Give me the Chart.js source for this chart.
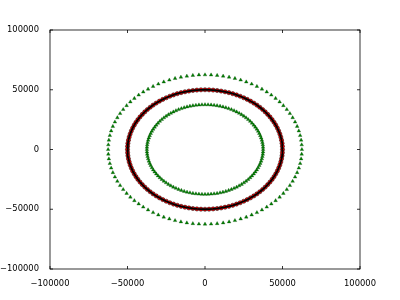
<!DOCTYPE html>
<html>
<head>
<meta charset="utf-8">
<script src="https://cdn.jsdelivr.net/npm/chart.js@4/dist/chart.umd.min.js"></script>
<style>
  html, body { margin: 0; padding: 0; background: #fff; }
  #wrap { width: 400px; height: 300px; }
</style>
</head>
<body>
<div id="wrap"><canvas id="grafico" width="400" height="300"></canvas></div>
<script>
// Anel vermelho (raio ~50000)
const redX = [50000,49931,49726,49384,48907,48296,47553,46679,45677,44550,43301,41933,40451,38857,37157,35355,33457,31466,29389,27232,25000,22699,20337,17918,15451,12941,10396,7822,5226,2617,
  0,-2617,-5226,-7822,-10396,-12941,-15451,-17918,-20337,-22699,-25000,-27232,-29389,-31466,-33457,-35355,-37157,-38857,-40451,-41933,-43301,-44550,-45677,-46679,-47553,-48296,-48907,-49384,-49726,-49931,
  -50000,-49931,-49726,-49384,-48907,-48296,-47553,-46679,-45677,-44550,-43301,-41933,-40451,-38857,-37157,-35355,-33457,-31466,-29389,-27232,-25000,-22699,-20337,-17918,-15451,-12941,-10396,-7822,-5226,-2617,
  0,2617,5226,7822,10396,12941,15451,17918,20337,22699,25000,27232,29389,31466,33457,35355,37157,38857,40451,41933,43301,44550,45677,46679,47553,48296,48907,49384,49726,49931];
const redY = [0,2617,5226,7822,10396,12941,15451,17918,20337,22699,25000,27232,29389,31466,33457,35355,37157,38857,40451,41933,43301,44550,45677,46679,47553,48296,48907,49384,49726,49931,
  50000,49931,49726,49384,48907,48296,47553,46679,45677,44550,43301,41933,40451,38857,37157,35355,33457,31466,29389,27232,25000,22699,20337,17918,15451,12941,10396,7822,5226,2617,
  0,-2617,-5226,-7822,-10396,-12941,-15451,-17918,-20337,-22699,-25000,-27232,-29389,-31466,-33457,-35355,-37157,-38857,-40451,-41933,-43301,-44550,-45677,-46679,-47553,-48296,-48907,-49384,-49726,-49931,
  -50000,-49931,-49726,-49384,-48907,-48296,-47553,-46679,-45677,-44550,-43301,-41933,-40451,-38857,-37157,-35355,-33457,-31466,-29389,-27232,-25000,-22699,-20337,-17918,-15451,-12941,-10396,-7822,-5226,-2617];

// Anel verde interno (raio ~37500)
const innerX = [37500,37448,37295,37038,36681,36222,35665,35009,34258,33413,32476,31450,30338,29143,27868,26517,25092,23600,22042,20424,18750,17025,15253,13439,11588,9706,7797,5866,3920,1963,
  0,-1963,-3920,-5866,-7797,-9706,-11588,-13439,-15253,-17025,-18750,-20424,-22042,-23600,-25092,-26517,-27868,-29143,-30338,-31450,-32476,-33413,-34258,-35009,-35665,-36222,-36681,-37038,-37295,-37448,
  -37500,-37448,-37295,-37038,-36681,-36222,-35665,-35009,-34258,-33413,-32476,-31450,-30338,-29143,-27868,-26517,-25092,-23600,-22042,-20424,-18750,-17025,-15253,-13439,-11588,-9706,-7797,-5866,-3920,-1963,
  0,1963,3920,5866,7797,9706,11588,13439,15253,17025,18750,20424,22042,23600,25092,26517,27868,29143,30338,31450,32476,33413,34258,35009,35665,36222,36681,37038,37295,37448];
const innerY = [0,1963,3920,5866,7797,9706,11588,13439,15253,17025,18750,20424,22042,23600,25092,26517,27868,29143,30338,31450,32476,33413,34258,35009,35665,36222,36681,37038,37295,37448,
  37500,37448,37295,37038,36681,36222,35665,35009,34258,33413,32476,31450,30338,29143,27868,26517,25092,23600,22042,20424,18750,17025,15253,13439,11588,9706,7797,5866,3920,1963,
  0,-1963,-3920,-5866,-7797,-9706,-11588,-13439,-15253,-17025,-18750,-20424,-22042,-23600,-25092,-26517,-27868,-29143,-30338,-31450,-32476,-33413,-34258,-35009,-35665,-36222,-36681,-37038,-37295,-37448,
  -37500,-37448,-37295,-37038,-36681,-36222,-35665,-35009,-34258,-33413,-32476,-31450,-30338,-29143,-27868,-26517,-25092,-23600,-22042,-20424,-18750,-17025,-15253,-13439,-11588,-9706,-7797,-5866,-3920,-1963];

// Anel verde externo (raio ~62500)
const outerX = [62500,62377,62007,61393,60536,59441,58111,56552,54769,52771,50564,48157,45561,42784,39839,36737,33489,30110,26611,23008,19314,15543,11711,7833,3924,
  0,-3924,-7833,-11711,-15543,-19314,-23008,-26611,-30110,-33489,-36737,-39839,-42784,-45561,-48157,-50564,-52771,-54769,-56552,-58111,-59441,-60536,-61393,-62007,-62377,
  -62500,-62377,-62007,-61393,-60536,-59441,-58111,-56552,-54769,-52771,-50564,-48157,-45561,-42784,-39839,-36737,-33489,-30110,-26611,-23008,-19314,-15543,-11711,-7833,-3924,
  0,3924,7833,11711,15543,19314,23008,26611,30110,33489,36737,39839,42784,45561,48157,50564,52771,54769,56552,58111,59441,60536,61393,62007,62377];
const outerY = [0,3924,7833,11711,15543,19314,23008,26611,30110,33489,36737,39839,42784,45561,48157,50564,52771,54769,56552,58111,59441,60536,61393,62007,62377,
  62500,62377,62007,61393,60536,59441,58111,56552,54769,52771,50564,48157,45561,42784,39839,36737,33489,30110,26611,23008,19314,15543,11711,7833,3924,
  0,-3924,-7833,-11711,-15543,-19314,-23008,-26611,-30110,-33489,-36737,-39839,-42784,-45561,-48157,-50564,-52771,-54769,-56552,-58111,-59441,-60536,-61393,-62007,-62377,
  -62500,-62377,-62007,-61393,-60536,-59441,-58111,-56552,-54769,-52771,-50564,-48157,-45561,-42784,-39839,-36737,-33489,-30110,-26611,-23008,-19314,-15543,-11711,-7833,-3924];

// Ticks dos eixos
const tickValues = [-100000, -50000, 0, 50000, 100000];

const pts = (xs, ys) => xs.map((x, i) => ({ x: x, y: ys[i] }));
const redPts = pts(redX, redY);

// moldura + ticks para dentro, estilo matplotlib
const framePlugin = {
    id: 'frame',
    afterDatasetsDraw(chart) {
        const c = chart.ctx, a = chart.chartArea;
        const sx = chart.scales.x, sy = chart.scales.y;
        c.save();
        c.strokeStyle = '#000';
        c.lineWidth = 0.8;
        c.strokeRect(a.left, a.top, a.right - a.left, a.bottom - a.top);
        c.beginPath();
        tickValues.forEach(v => {
            const px = sx.getPixelForValue(v);
            c.moveTo(px, a.bottom); c.lineTo(px, a.bottom - 3);
            c.moveTo(px, a.top); c.lineTo(px, a.top + 3);
            const py = sy.getPixelForValue(v);
            c.moveTo(a.left, py); c.lineTo(a.left + 3, py);
            c.moveTo(a.right, py); c.lineTo(a.right - 3, py);
        });
        c.stroke();
        c.restore();
    }
};

const fmt = v => String(v).replace('-', '\u2212');
const tickFont = { family: 'DejaVu Sans', size: 8.4 };

new Chart(document.getElementById('grafico'), {
    type: 'scatter',
    data: {
        datasets: [
            {
                data: redPts.concat([redPts[0]]),
                showLine: true,
                borderColor: '#000',
                borderWidth: 1.8,
                pointRadius: 0
            },
            {
                data: redPts,
                pointStyle: 'circle',
                pointRadius: 2.1,
                backgroundColor: '#ff0000',
                borderColor: '#000',
                borderWidth: 0.5
            },
            {
                data: pts(innerX, innerY),
                pointStyle: 'triangle',
                pointRadius: 2.1,
                backgroundColor: '#008000',
                borderColor: '#004000',
                borderWidth: 0.3
            },
            {
                data: pts(outerX, outerY),
                pointStyle: 'triangle',
                pointRadius: 2.1,
                backgroundColor: '#008000',
                borderColor: '#004000',
                borderWidth: 0.3
            }
        ]
    },
    options: {
        responsive: false,
        animation: false,
        layout: { padding: { left: 0, top: 30, right: 40, bottom: 0 } },
        plugins: {
            legend: { display: false },
            tooltip: { enabled: false }
        },
        scales: {
            x: {
                type: 'linear',
                min: -100000,
                max: 100000,
                afterBuildTicks: s => { s.ticks = tickValues.map(v => ({ value: v })); },
                afterFit: s => { s.height = 31; },
                grid: { display: false },
                border: { display: false },
                ticks: { color: '#000', font: tickFont, padding: 2, maxRotation: 0, callback: fmt }
            },
            y: {
                type: 'linear',
                min: -100000,
                max: 100000,
                afterBuildTicks: s => { s.ticks = tickValues.map(v => ({ value: v })); },
                afterFit: s => { s.width = 50; },
                grid: { display: false },
                border: { display: false },
                ticks: { color: '#000', font: tickFont, padding: 3, callback: fmt }
            }
        }
    },
    plugins: [framePlugin]
});
</script>
</body>
</html>
